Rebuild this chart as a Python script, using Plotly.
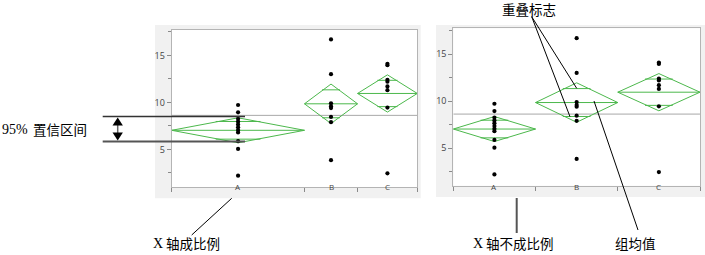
import plotly.graph_objects as go
import math

W, H = 705, 255

# ---------------- data ----------------
categories = ["A", "B", "C"]
points_A = [9.72, 8.94, 8.25, 7.95, 7.65, 7.35, 7.05, 6.8, 5.87, 5.05, 2.2]
points_B = [16.7, 13.0, 9.9, 9.6, 9.4, 8.45, 7.9, 3.85]
points_C = [14.1, 13.95, 12.4, 12.2, 11.7, 11.3, 9.45, 2.45]
group_means = [7.03, 9.85, 10.95]
ci_half = [1.33, 2.10, 1.98]
group_counts = [20, 8, 9]
grand_mean = 8.62
y_ticks = [5, 10, 15]

points = [points_A, points_B, points_C]

GREEN = "#4cb84c"
FRAME = "#b4b4b4"
TICKC = "#8a8a8a"
LABC = "#444444"


def px(x):
    return x / W


def py(y):
    return 1 - y / H


fig = go.Figure()


def add_panel(xa, ya, lefts, rights):
    xr = "x" if xa == 1 else "x2"
    yr = "y" if ya == 1 else "y2"
    xmin, xmax = lefts[0], rights[-1]
    fig.add_trace(go.Scatter(x=[xmin, xmax], y=[grand_mean, grand_mean], mode="lines",
                             line=dict(color="#a8a8a8", width=1), xaxis=xr, yaxis=yr,
                             hoverinfo="skip", showlegend=False))
    for i, cat in enumerate(categories):
        l, r = lefts[i], rights[i]
        c = (l + r) / 2
        m, h = group_means[i], ci_half[i]
        # diamond
        fig.add_trace(go.Scatter(x=[l, c, r, c, l], y=[m, m + h, m, m - h, m], mode="lines",
                                 line=dict(color=GREEN, width=1), xaxis=xr, yaxis=yr,
                                 hoverinfo="skip", showlegend=False))
        # mean line
        fig.add_trace(go.Scatter(x=[l, r], y=[m, m], mode="lines",
                                 line=dict(color=GREEN, width=1), xaxis=xr, yaxis=yr,
                                 hoverinfo="skip", showlegend=False))
        # overlap marks
        k = 1 / math.sqrt(2)
        half = (r - l) / 2 * (1 - k) * 1.15
        for s in (1, -1):
            yy = m + s * h * k
            fig.add_trace(go.Scatter(x=[c - half, c + half], y=[yy, yy], mode="lines",
                                     line=dict(color=GREEN, width=1), xaxis=xr, yaxis=yr,
                                     hoverinfo="skip", showlegend=False))
        # points
        fig.add_trace(go.Scatter(x=[c] * len(points[i]), y=points[i], mode="markers",
                                 marker=dict(color="black", size=4.2), xaxis=xr, yaxis=yr,
                                 hoverinfo="skip", showlegend=False))
        fig.add_annotation(x=c, y=py(193.5), xref=xr, yref="paper", text=cat,
                           showarrow=False, font=dict(size=8, color=LABC, family="Open Sans"))


# left panel: widths proportional to counts
cum = [0]
for n in group_counts:
    cum.append(cum[-1] + n)
add_panel(1, 1, cum[:-1], cum[1:])
# right panel: equal widths
add_panel(2, 2, [i - 0.5 for i in range(3)], [i + 0.5 for i in range(3)])

axis_common = dict(showline=True, mirror=True, linecolor=FRAME, linewidth=1,
                   showgrid=False, zeroline=False, ticks="outside", ticklen=4,
                   tickcolor=TICKC, tickwidth=1)

fig.update_layout(
    width=W, height=H, margin=dict(l=0, r=0, t=0, b=0), autosize=False,
    paper_bgcolor="white", plot_bgcolor="white", showlegend=False,
    xaxis=dict(domain=[px(171.7), px(417.3)], range=[0, cum[-1]], tickvals=cum,
               showticklabels=False, anchor="y", **axis_common),
    yaxis=dict(domain=[py(187), py(30)], range=[1.0, 17.7], tickvals=y_ticks,
               anchor="x", tickfont=dict(size=9, color=LABC, family="Open Sans"),
               minor=dict(dtick=2.5, tick0=0, ticks="outside", ticklen=3, tickcolor=TICKC),
               **axis_common),
    xaxis2=dict(domain=[px(453.3), px(700)], range=[-0.5, 2.5],
                tickvals=[-0.5, 0.5, 1.5, 2.5], showticklabels=False, anchor="y2",
                **axis_common),
    yaxis2=dict(domain=[py(185.7), py(28.3)], range=[1.0, 17.75], tickvals=y_ticks,
                anchor="x2", tickfont=dict(size=9, color=LABC, family="Open Sans"),
                minor=dict(dtick=2.5, tick0=0, ticks="outside", ticklen=3, tickcolor=TICKC),
                **axis_common),
)

shapes = []
# panel backgrounds
BG = "#f1f1f1"
shapes.append(dict(type="rect", xref="paper", yref="paper", x0=px(155), x1=px(420.7),
                   y0=py(198.3), y1=py(25), fillcolor=BG, line=dict(width=0), layer="below"))
shapes.append(dict(type="rect", xref="paper", yref="paper", x0=px(436), x1=px(705),
                   y0=py(197), y1=py(25), fillcolor=BG, line=dict(width=0), layer="below"))
shapes.append(dict(type="rect", xref="paper", yref="paper", x0=px(171.7), x1=px(417.3),
                   y0=py(187), y1=py(30), fillcolor="white", line=dict(width=0), layer="below"))
shapes.append(dict(type="rect", xref="paper", yref="paper", x0=px(453.3), x1=px(700),
                   y0=py(185.7), y1=py(28.3), fillcolor="white", line=dict(width=0), layer="below"))


def seg(x0, y0, x1, y1, color="black", width=1):
    shapes.append(dict(type="line", xref="paper", yref="paper", x0=px(x0), y0=py(y0),
                       x1=px(x1), y1=py(y1), line=dict(color=color, width=width), layer="above"))


# CI bracket lines
seg(102.7, 116.5, 245, 116.5, "#333333", 1.6)
seg(102.7, 141.5, 245, 141.5, "#555555", 2)
# double arrow
seg(117.7, 125, 117.7, 133.5, "#666666", 1.5)
shapes.append(dict(type="path", xref="paper", yref="paper", layer="above",
                   path=f"M {px(117.7)},{py(117.5)} L {px(112.5)},{py(125.5)} L {px(122.9)},{py(125.5)} Z",
                   fillcolor="black", line=dict(width=0)))
shapes.append(dict(type="path", xref="paper", yref="paper", layer="above",
                   path=f"M {px(117.7)},{py(140.5)} L {px(112.5)},{py(132.5)} L {px(122.9)},{py(132.5)} Z",
                   fillcolor="black", line=dict(width=0)))
# callout lines
seg(191.7, 235, 231.7, 198.3, "black", 1)
seg(516.7, 198, 516.7, 233, "#555555", 2)
seg(594, 101, 638, 230, "black", 1)
seg(531.7, 16.7, 576.7, 88.3, "black", 1)
seg(531.7, 16.7, 570, 116.7, "black", 1)

fig.update_layout(shapes=shapes)

SERIF = "Liberation Serif"
CJK = "Noto Sans CJK SC"


def label(x, y, text, family=CJK, size=13.5):
    fig.add_annotation(x=px(x), y=py(y), xref="paper", yref="paper", text=text,
                       showarrow=False, xanchor="left", yanchor="middle",
                       xshift=-2, font=dict(size=size, color="black", family=family))


label(2, 129, "95%", SERIF, 14)
label(32.5, 129, "置信区间")
label(152.5, 243.3, "X", SERIF, 14)
label(166, 243.3, "轴成比例")
label(472.5, 243.3, "X", SERIF, 14)
label(486, 243.3, "轴不成比例")
label(614.5, 243.3, "组均值")
label(501.5, 9.2, "重叠标志")

fig.write_html("out.html")
